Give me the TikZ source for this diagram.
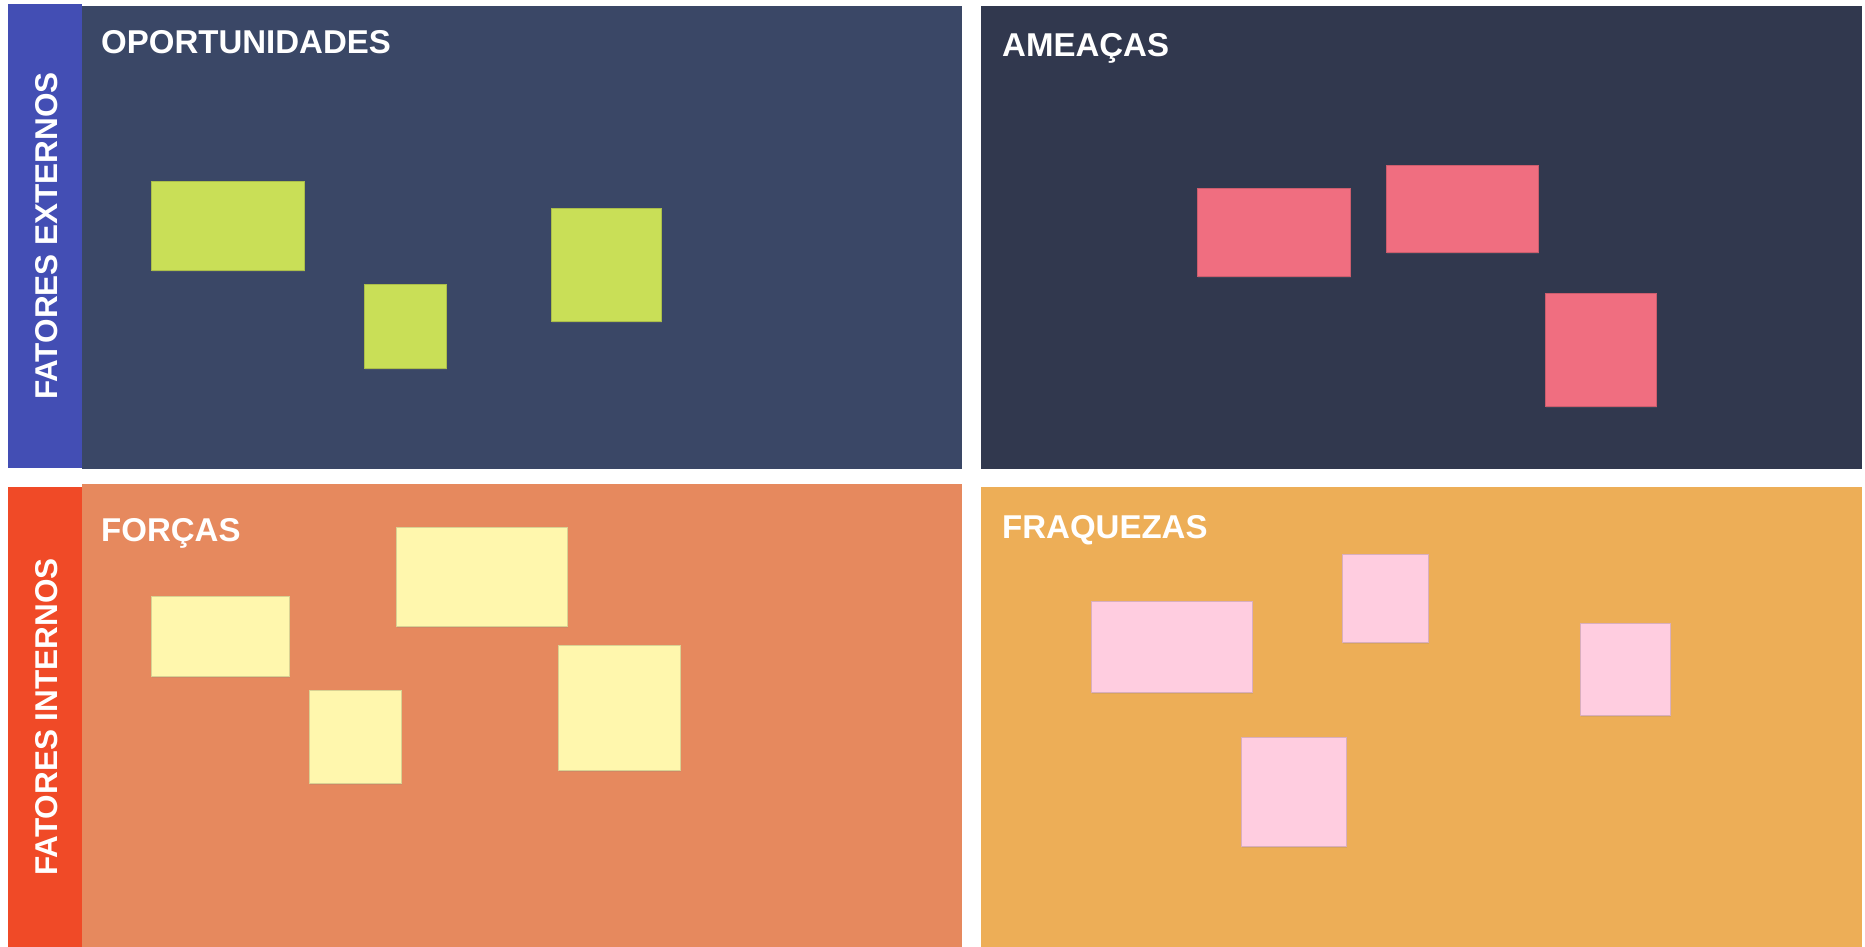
\documentclass[tikz,border=0pt]{standalone}
\usepackage{fontspec}
\setmainfont{Liberation Sans}
\usetikzlibrary{shadows}
\definecolor{colExt}{RGB}{67,78,180}
\definecolor{colInt}{RGB}{240,74,39}
\definecolor{colOp}{RGB}{58,71,102}
\definecolor{colAm}{RGB}{49,56,78}
\definecolor{colFo}{RGB}{230,137,94}
\definecolor{colFr}{RGB}{237,174,87}
\definecolor{noteG}{RGB}{201,223,87}
\definecolor{noteR}{RGB}{240,110,128}
\definecolor{noteY}{RGB}{255,247,173}
\definecolor{noteP}{RGB}{255,205,224}

\begin{document}
\begin{tikzpicture}[
    x=1pt, y=-1pt,
    title/.style={text=white, anchor=base west, inner sep=0pt,
                  font=\fontsize{33}{40}\selectfont\bfseries},
    sidelabel/.style={text=white, rotate=90, inner sep=0pt,
                      font=\fontsize{31.5}{38}\selectfont\bfseries},
    note/.style={fill=#1, draw=#1!85!black, line width=0.5pt,
                 drop shadow={opacity=0.18, shadow xshift=0.8pt, shadow yshift=-1.5pt}},
  ]
  \useasboundingbox (0,0) rectangle (1865,947);

  % ---- side bars ---------------------------------------------------------
  \fill[colExt] (8,4)   rectangle (82,468);
  \fill[colInt] (8,487) rectangle (82,947);
  \node[sidelabel] (externos) at (47,236) {FATORES EXTERNOS};
  \node[sidelabel] (internos) at (47,717) {FATORES INTERNOS};

  % ---- the four quadrants --------------------------------------------------
  \fill[colOp] (82,6)    rectangle (962,469);
  \fill[colAm] (981,6)   rectangle (1862,469);
  \fill[colFo] (82,484)  rectangle (962,947);
  \fill[colFr] (981,487) rectangle (1862,947);

  \node[title] (oport)     at (101,54)  {OPORTUNIDADES};
  \node[title] (ameacas)   at (1002,57) {AMEAÇAS};
  \node[title] (forcas)    at (101,541) {FORÇAS};
  \node[title] (fraquezas) at (1002,538) {FRAQUEZAS};

  % ---- sticky notes --------------------------------------------------------
  % oportunidades
  \path[note=noteG] (151,181) rectangle (304,270);
  \path[note=noteG] (364,284) rectangle (446,368);
  \path[note=noteG] (551,208) rectangle (661,321);
  % ameacas
  \path[note=noteR] (1197,188) rectangle (1350,276);
  \path[note=noteR] (1386,165) rectangle (1538,252);
  \path[note=noteR] (1545,293) rectangle (1656,406);
  % forcas
  \path[note=noteY] (151,596) rectangle (289,676);
  \path[note=noteY] (396,527) rectangle (567,626);
  \path[note=noteY] (309,690) rectangle (401,783);
  \path[note=noteY] (558,645) rectangle (680,770);
  % fraquezas
  \path[note=noteP] (1091,601) rectangle (1252,692);
  \path[note=noteP] (1342,554) rectangle (1428,642);
  \path[note=noteP] (1580,623) rectangle (1670,715);
  \path[note=noteP] (1241,737) rectangle (1346,846);

\end{tikzpicture}
\end{document}
